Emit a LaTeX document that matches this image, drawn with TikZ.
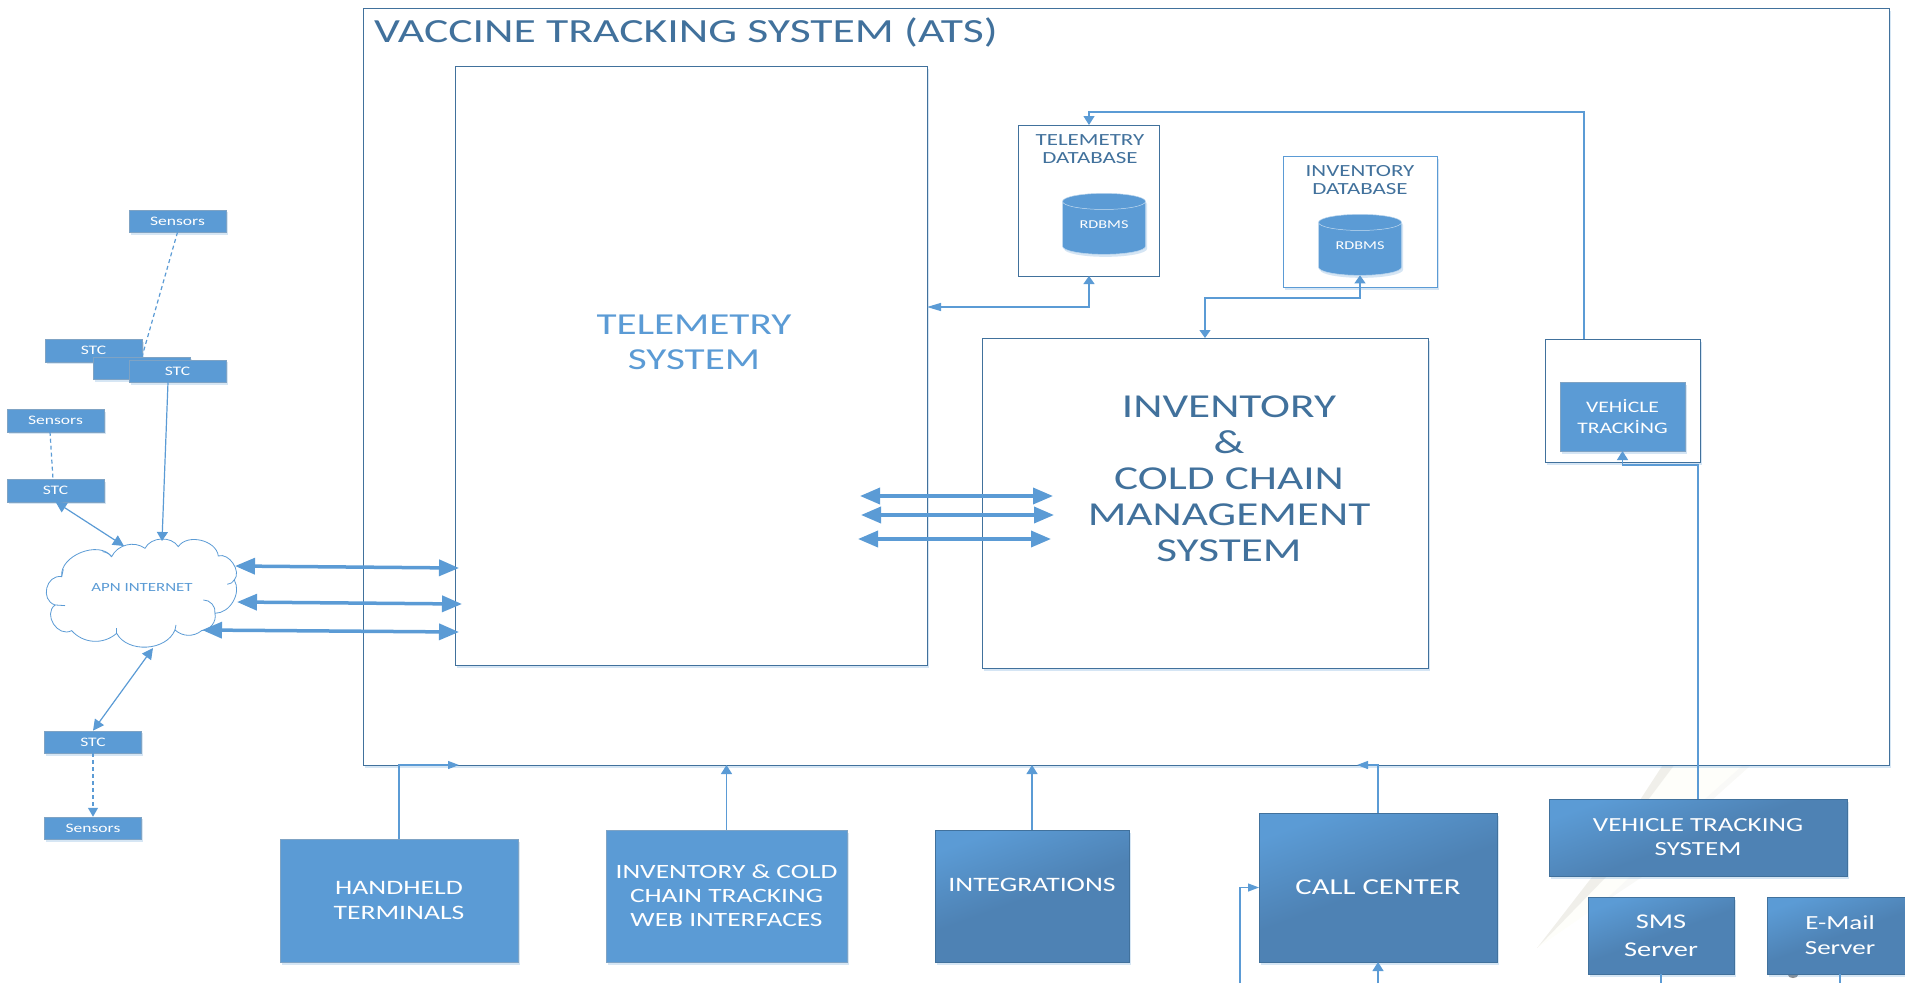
\documentclass[tikz,border=0pt]{standalone}
\usepackage{fontspec}
\setmainfont[FakeStretch=1.35]{Carlito}
\usepackage{tikz}
\usetikzlibrary{arrows.meta,shapes,shapes.geometric,shadows}
\definecolor{vtblue}{RGB}{91,155,213}
\definecolor{vtdark}{RGB}{65,113,156}
\definecolor{vtshade}{RGB}{78,130,180}
\definecolor{vtcream}{RGB}{254,254,250}
\definecolor{vtstreak}{RGB}{240,239,234}
\tikzstyle{softshadow} = [drop shadow={shadow xshift=1.5pt,shadow yshift=-2.5pt,opacity=0.25,fill=vtblue}]
\tikzstyle{bluebox} = [rectangle, fill=vtblue, draw=black!20!vtblue!70!white, text=white, align=center, inner sep=0pt, outer sep=0pt, softshadow]
\tikzstyle{shadebox} = [rectangle, top color=vtblue, bottom color=vtshade, middle color=vtshade, shading angle=20, draw=vtdark, text=white, align=center, inner sep=0pt, outer sep=0pt, softshadow]
\tikzstyle{whitebox} = [rectangle, fill=white, draw=vtdark, line width=1pt, align=center, inner sep=0pt, outer sep=0pt]
\tikzstyle{sensor} = [bluebox, minimum width=97pt, minimum height=22.5pt, font=\fontsize{13}{14}\selectfont]
\tikzstyle{rdbms} = [cylinder, shape border rotate=90, aspect=0.33, cylinder uses custom fill, cylinder body fill=vtblue, cylinder end fill=vtblue, draw=vtblue!40!white, line width=0.5pt, inner sep=0pt, outer sep=0pt, minimum width=83pt, minimum height=61pt, font=\fontsize{12}{13}\selectfont, softshadow]
\tikzstyle{rdbmstext} = [text=white, inner sep=0pt, font=\fontsize{12}{13}\selectfont]
\tikzstyle{dbtext} = [text=vtdark, align=center, font=\fontsize{17}{18.5}\selectfont]
\tikzstyle{plain} = [draw=vtblue, line width=1.2pt]
\tikzstyle{dashline} = [plain, dash pattern=on 4pt off 3pt]
\tikzstyle{link} = [plain, -{Triangle[length=9pt,width=11pt]}]
\tikzstyle{hlink} = [plain, -{Triangle[length=11pt,width=8pt]}]
\tikzstyle{linkboth} = [plain, {Triangle[length=11pt,width=11pt]}-{Triangle[length=11pt,width=11pt]}]
\tikzstyle{cornerboth} = [plain, {Triangle[length=8pt,width=11pt]}-{Triangle[length=14pt,width=8pt]}]
\tikzstyle{updown} = [plain, {Triangle[length=8pt,width=11pt]}-{Triangle[length=8pt,width=11pt]}]
\tikzstyle{bus} = [draw=vtblue, line width=3.5pt, {Triangle[length=20pt,width=16pt]}-{Triangle[length=20pt,width=16pt]}]
\tikzstyle{cloudline} = [draw=vtblue, line width=0.8pt]
\begin{document}
\begin{tikzpicture}[x=1pt, y=-1pt]
\useasboundingbox (0,0) rectangle (1905,983);

% Background streaks
\fill[vtcream] (1672,760) -- (1750,760) -- (1640,877) -- (1537,948) -- (1603,877) -- cycle;
\fill[vtstreak] (1666,760) -- (1678,760) -- (1648,800) -- (1606,877) -- (1537,948) -- (1592,877) -- (1640,800) -- cycle;
\fill[vtstreak!40!white] (1742,766) -- (1750,766) -- (1712,800) -- (1642,877) -- (1600,905) -- (1630,877) -- (1704,800) -- cycle;
\fill[black!45] (1793,975) ellipse (5pt and 3pt);

% Main system
\node (ats) [whitebox, minimum width=1526pt, minimum height=757pt, softshadow] at (1126,386.5) {};
\node (atstitle) [text=vtdark, anchor=west, inner sep=0pt, font=\fontsize{33.8}{36}\selectfont] at (374,32) {VACCINE TRACKING SYSTEM (ATS)};
\node (telemetry) [whitebox, minimum width=472pt, minimum height=599pt, softshadow] at (691,365.5) {};
\node (telemetrytext) [text=vtblue, align=center, font=\fontsize{30.5}{35}\selectfont] at (694,342) {TELEMETRY\\SYSTEM};
\node (inventory) [whitebox, minimum width=446pt, minimum height=330pt, softshadow] at (1205,503) {};
\node (inventorytext) [text=vtdark, align=center, font=\fontsize{33.5}{36}\selectfont] at (1229,479) {INVENTORY\\\&\\COLD CHAIN\\MANAGEMENT\\SYSTEM};

% Databases
\node (telemetrydb) [whitebox, minimum width=141.5pt, minimum height=151pt] at (1089,200.5) {};
\node (telemetrydbtext) [dbtext] at (1090,149) {TELEMETRY\\DATABASE};
\node (telemetryrdbms) [rdbms] at (1104,228) {\phantom{RDBMS}};
\node (telemetrylabel) [rdbmstext] at (1104,225) {RDBMS};
\node (inventorydb) [whitebox, draw=vtblue, minimum width=154pt, minimum height=131pt, softshadow] at (1360,221.5) {};
\node (inventorydbtext) [dbtext] at (1360,180) {INVENTORY\\DATABASE};
\node (inventoryrdbms) [rdbms] at (1360,249) {\phantom{RDBMS}};
\node (inventorylabel) [rdbmstext] at (1360,246) {RDBMS};

% Vehicle tracking
\node (vehicleouter) [whitebox, minimum width=154.5pt, minimum height=123pt, softshadow] at (1623,400.5) {};
\node (vehicle) [bluebox, minimum width=125pt, minimum height=69pt, font=\fontsize{16}{21}\selectfont] at (1622.5,416.5) {VEH\.{I}CLE\\[0.5pt]TRACK\.{I}NG};

% Sensors and STC units
\node (sensorsa) [sensor] at (177.5,221) {Sensors};
\node (stca) [sensor] at (93.5,350.5) {STC};
\node (stcb) [sensor] at (142,368) {};
\node (stcc) [sensor] at (177.5,371) {STC};
\node (sensorsb) [sensor] at (55.5,420.5) {Sensors};
\node (stcd) [sensor] at (55.5,490.5) {STC};
\node (stce) [sensor] at (93,742) {STC};
\node (sensorsc) [sensor] at (93,828) {Sensors};

% Cloud
\begin{scope}[shift={(0,180)}, x=0.3333pt, y=-0.3333pt]
\draw[cloudline, fill=white] (185,1190) to[bend left=75] (335,1130) to[bend left=50] (435,1105) to[bend left=60] (535,1100) to[bend left=70] (655,1128) to[bend left=75] (703,1200) to[bend left=60] (645,1300) to[bend left=50] (605,1352) to[bend left=40] (525,1350) to[bend left=65] (350,1360) to[bend left=45] (215,1352) to[bend left=85, looseness=1.3] (165,1275) to[bend left=85, looseness=1.4] cycle;
\draw[cloudline] (610,1260) to[bend left=50] (645,1300);
\draw[cloudline] (682,1213) to[bend right=25] (703,1200);
\draw[cloudline] (308,1115) to[bend left=20] (335,1130);
\draw[cloudline] (165,1275) -- (195,1277);
\draw[cloudline] (185,1190) -- (190,1168);
\draw[cloudline] (528,1335) -- (525,1350);
\draw[cloudline] (350,1345) -- (350,1360);
\end{scope}
\node (apntext) [text=vtblue, font=\fontsize{12.5}{15}\selectfont] at (142,587) {APN INTERNET};

% Bottom boxes
\node (handheld) [bluebox, minimum width=238pt, minimum height=123pt, font=\fontsize{20.5}{25}\selectfont] at (399,900.5) {HANDHELD\\TERMINALS};
\node (webui) [bluebox, minimum width=241pt, minimum height=132pt, font=\fontsize{20.3}{24}\selectfont] at (726.5,896) {INVENTORY \& COLD\\CHAIN TRACKING\\WEB INTERFACES};
\node (integrations) [shadebox, minimum width=194pt, minimum height=132pt, font=\fontsize{20.5}{24}\selectfont] at (1032,896) {INTEGRATIONS\\[-1pt]\ };
\node (callcenter) [shadebox, minimum width=238pt, minimum height=149pt, font=\fontsize{22.8}{24}\selectfont] at (1378,887.5) {CALL CENTER};
\node (vts) [shadebox, minimum width=298pt, minimum height=77pt, font=\fontsize{20}{24}\selectfont] at (1698,837.5) {VEHICLE TRACKING\\SYSTEM};
\node (sms) [shadebox, minimum width=146pt, minimum height=77pt, font=\fontsize{21}{28}\selectfont] at (1661,935.5) {SMS\\Server};
\node (email) [shadebox, minimum width=146pt, minimum height=77pt, font=\fontsize{20}{25}\selectfont] at (1840,935.5) {E-Mail\\Server};

% Free ends
\coordinate (apntop) at (162,541);
\coordinate (apnleft) at (124,546);
\coordinate (apnfoot) at (153,648);
\coordinate (apnbusa) at (235,566);
\coordinate (apnbusb) at (237,602);
\coordinate (apnbusc) at (202,630);
\coordinate (telbusa) at (459,568);
\coordinate (telbusb) at (462,604);
\coordinate (telbusc) at (459,632);
\coordinate (midleftA) at (860,496);
\coordinate (midrightA) at (1053,496);
\coordinate (midleftB) at (861,515);
\coordinate (midrightB) at (1054,515);
\coordinate (midleftC) at (858,539);
\coordinate (midrightC) at (1051,539);
\coordinate (teleport) at (927,307);
\coordinate (invbend) at (1360,298);
\coordinate (vehtop) at (1584,339);
\coordinate (feedbend) at (1089,112);
\coordinate (vehbend) at (1698,465);
\coordinate (atshand) at (459,765);
\coordinate (atscall) at (1357,765);
\coordinate (mailfoot) at (1840,983);
\coordinate (smsfoot) at (1661,983);
\coordinate (callfoot) at (1378,983);
\coordinate (callside) at (1240,983);

% Connections
\draw[dashline] (sensorsa.south) -- (stcb.north);
\draw[dashline] ([xshift=-5.5pt]sensorsb.south) -- ([xshift=-2.5pt]stcd.north);
\draw[link] ([xshift=-9.5pt]stcc.south) -- (apntop);
\draw[linkboth] (stcd.south) -- (apnleft);
\draw[linkboth] (apnfoot) -- (stce.north);
\draw[dashline, -{Triangle[length=9pt,width=10pt]}] (stce.south) -- (sensorsc.north);

% Internet links
\draw[bus] (apnbusa) -- (telbusa);
\draw[bus] (apnbusb) -- (telbusb);
\draw[bus] (apnbusc) -- (telbusc);
\draw[bus] (midleftA) -- (midrightA);
\draw[bus] (midleftB) -- (midrightB);
\draw[bus] (midleftC) -- (midrightC);

% Database links
\draw[cornerboth] (telemetrydb.south) |- (teleport);
\draw[updown] (inventoryrdbms.south) -- (invbend) -| (inventory.north);
\draw[link] (vehtop) |- (feedbend) -- (telemetrydb.north);
\draw[link] (vts.north) -- (vehbend) -| (vehicle.south);

% Outside links
\draw[hlink] (handheld.north) |- (atshand);
\draw[link] (webui.north) -- (webui.north |- ats.south);
\draw[link] (integrations.north) -- (integrations.north |- ats.south);
\draw[hlink] (callcenter.north) |- (atscall);
\draw[hlink] (callside) |- (callcenter.west);
\draw[link] (callfoot) -- (callcenter.south);
\draw[plain] (sms.south) -- (smsfoot);
\draw[plain] (email.south) -- (mailfoot);
\end{tikzpicture}
\end{document}
